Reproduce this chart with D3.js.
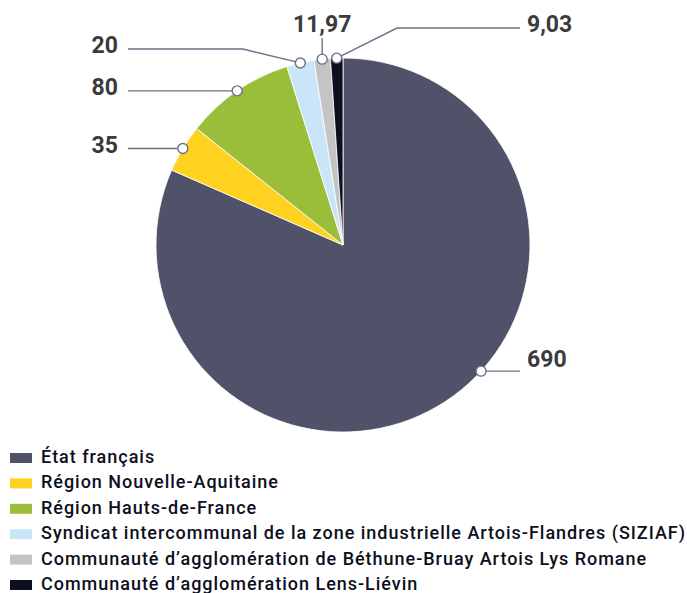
<!DOCTYPE html>
<html>
<head>
<meta charset="utf-8">
<script src="https://cdn.jsdelivr.net/npm/d3@7"></script>
<style>
  body { margin: 0; background: #fff; }
  svg { display: block; }
</style>
</head>
<body>
<div id="chart"></div>
<script>
'use strict';

// funders, clockwise from 12 o'clock
var names = [
    'État français',
    'Région Nouvelle-Aquitaine',
    'Région Hauts-de-France',
    'Syndicat intercommunal de la zone industrielle Artois-Flandres (SIZIAF)',
    'Communauté d’agglomération de Béthune-Bruay Artois Lys Romane',
    'Communauté d’agglomération Lens-Liévin'
];
var amounts = [690, 35, 80, 20, 11.97, 9.03];
var valueLabels = ['690', '35', '80', '20', '11,97', '9,03'];
var colors = ['#4f5268', '#ffd21f', '#9bbe3a', '#c9e6f8', '#c4c4c4', '#0b0f20'];

var width = 687, height = 593;
var cx = 343, cy = 245, radius = 187;

var svg = d3.select('#chart').append('svg')
    .attr('width', width)
    .attr('height', height);

var data = names.map(function(n, i) {
    return {name: n, value: amounts[i], label: valueLabels[i], color: colors[i]};
});

var pie = d3.pie().sort(null).value(function(d) { return d.value; });
var arc = d3.arc().innerRadius(0).outerRadius(radius);
var arcs = pie(data);

var g = svg.append('g').attr('transform', 'translate(' + cx + ',' + cy + ')');

g.selectAll('path.slice')
    .data(arcs)
    .enter().append('path')
    .attr('class', 'slice')
    .attr('d', arc)
    .attr('fill', function(d) { return d.data.color; })
    .attr('stroke', '#fff')
    .attr('stroke-width', 0.8);

// point on the rim where the leader line starts
function anchor(d, i) {
    // big slice: label sits lower right instead of at the middle
    var t = i === 0 ? 0.451 : 0.5;
    var a = d.startAngle + (d.endAngle - d.startAngle) * t;
    return [Math.sin(a) * radius, -Math.cos(a) * radius];
}

var lineColor = '#6d7087';
var labelFont = 'Roboto, "DejaVu Sans", sans-serif';

// leader line routes (relative to center), label end first
function route(d, i) {
    var p = anchor(d, i);
    var x = p[0], y = p[1];
    if (i === 0) return [[177, y], [x, y]];
    if (i === 1 || i === 2) return [[-215, y], [x, y]];
    if (i === 3) return [[-215, -196], [-100, -196], [x, y]];
    if (i === 4) return [[x, -207], [x, y]];
    return [[177, -217], [54, -217], [x, y]];
}

var leaders = g.selectAll('g.leader')
    .data(arcs)
    .enter().append('g')
    .attr('class', 'leader');

leaders.append('path')
    .attr('d', function(d, i) { return d3.line()(route(d, i)); })
    .attr('fill', 'none')
    .attr('stroke', lineColor)
    .attr('stroke-width', 1.4);

leaders.append('circle')
    .attr('cx', function(d, i) { return anchor(d, i)[0]; })
    .attr('cy', function(d, i) { return anchor(d, i)[1]; })
    .attr('r', 5)
    .attr('fill', '#fff')
    .attr('stroke', lineColor)
    .attr('stroke-width', 1.4);

leaders.append('text')
    .attr('x', function(d, i) {
        var r = route(d, i)[0];
        if (i === 4) return r[0];
        return i === 0 || i === 5 ? r[0] + 7 : r[0] - 10;
    })
    .attr('y', function(d, i) {
        var r = route(d, i)[0];
        if (i === 4) return r[1] - 6;
        if (i === 0) return r[1] - 4;
        return r[1] + 4;
    })
    .attr('text-anchor', function(d, i) {
        if (i === 4) return 'middle';
        return i === 0 || i === 5 ? 'start' : 'end';
    })
    .attr('font-family', labelFont)
    .attr('font-weight', 'bold')
    .attr('font-size', 23)
    .attr('fill', '#3b3b3d')
    .text(function(d) { return d.data.label; });

// legend
var legend = svg.append('g').attr('transform', 'translate(10,463)');
var rows = legend.selectAll('g')
    .data(data)
    .enter().append('g')
    .attr('transform', function(d, i) { return 'translate(0,' + (i * 25.4) + ')'; });

rows.append('rect')
    .attr('y', -10)
    .attr('width', 22)
    .attr('height', 10)
    .attr('fill', function(d) { return d.color; });

var legendText = rows.append('text')
    .attr('x', 31)
    .attr('y', 0)
    .attr('font-family', labelFont)
    .attr('font-weight', 500)
    .attr('font-size', 18)
    .attr('fill', '#0b0f20')
    .text(function(d) { return d.name; });

// widen spacing so the longest line reaches the right edge like the original
var longest = legendText.nodes()[3];
var w = longest.getComputedTextLength();
var spacing = (644 - w) / (names[3].length - 1);
legendText.attr('letter-spacing', spacing);
</script>
</body>
</html>
